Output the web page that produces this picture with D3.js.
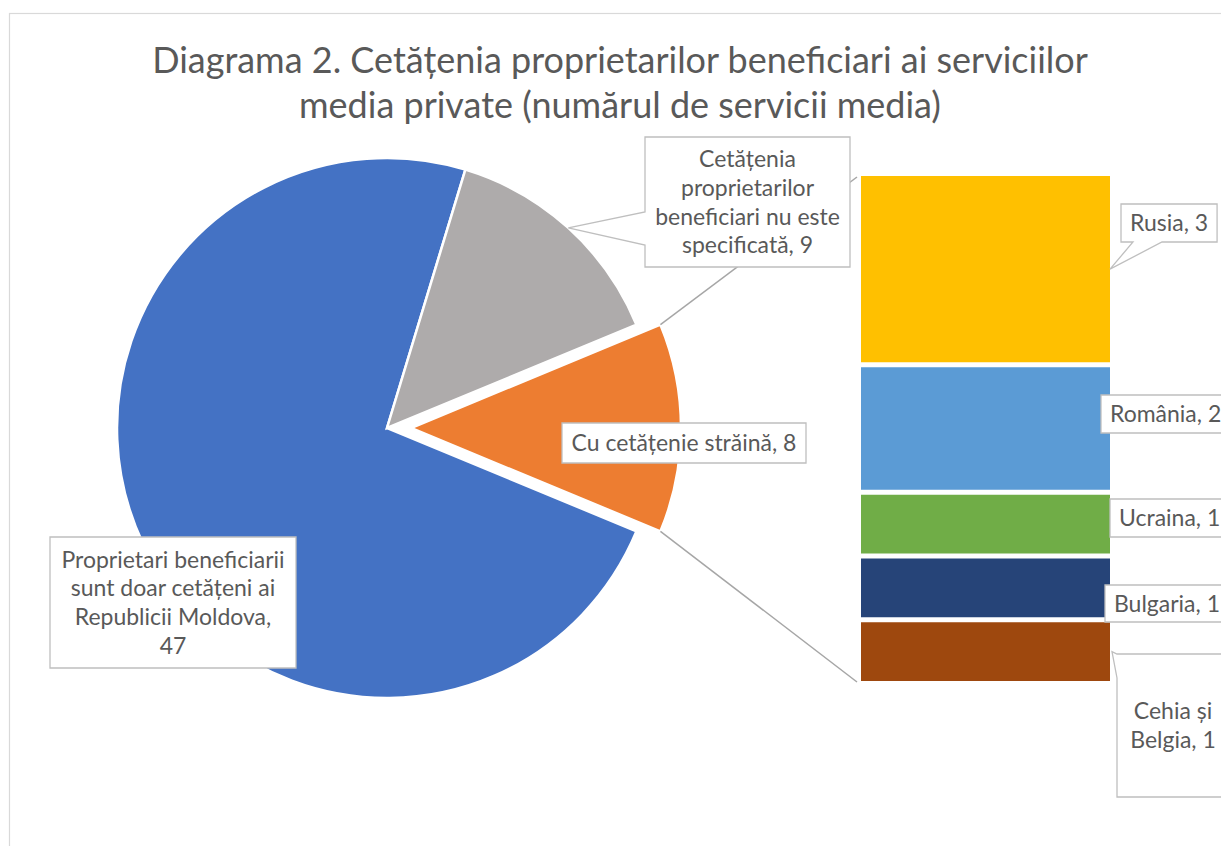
<!DOCTYPE html>
<html><head><meta charset="utf-8">
<script src="https://cdn.jsdelivr.net/npm/d3@7"></script>
<style>html,body{margin:0;padding:0;background:#fff;overflow:hidden}</style>
</head><body><svg id="chart" width="1221" height="846"></svg>
<script>
// ---- data ----
const titleLines = ["Diagrama 2. Cetățenia proprietarilor beneficiari ai serviciilor",
                    "media private (numărul de servicii media)"];
const pieCategories = ["Proprietari beneficiarii sunt doar cetățeni ai Republicii Moldova",
                       "Cetățenia proprietarilor beneficiari nu este specificată",
                       "Cu cetățenie străină"];
const pieValues = [47, 9, 8];
const pieColors = ["#4472C4", "#AEABAB", "#ED7D31"];
const barCategories = ["Rusia", "România", "Ucraina", "Bulgaria", "Cehia și Belgia"];
const barValues = [3, 2, 1, 1, 1];
const barColors = ["#FFC000", "#5B9BD5", "#70AD47", "#264478", "#9E480E"];

// ---- layout ----
const FONT = "Lato, 'Open Sans', sans-serif";
const TXT = "#595959";
const svg = d3.select("#chart");
svg.append("rect").attr("x", 9.5).attr("y", 13.5).attr("width", 1400).attr("height", 1000)
  .attr("fill", "#fff").attr("stroke", "#D9D9D9").attr("stroke-width", 1.2);

// measuring helper
const meas = svg.append("text").attr("font-family", FONT).attr("visibility", "hidden");
function textW(s, size) { meas.attr("font-size", size).text(s); return meas.node().getComputedTextLength(); }
function fitSize(s, target) { return 20 * target / textW(s, 20); }

const titleSize = fitSize(titleLines[0], 936);
const labelSize = fitSize(pieCategories[2] + ", " + pieValues[2], 225);

// title
svg.append("g").selectAll("text").data(titleLines).join("text")
  .attr("x", 620).attr("y", (d, i) => 73 + i * 45)
  .attr("text-anchor", "middle").attr("font-family", FONT).attr("font-size", titleSize)
  .attr("fill", TXT).text(d => d);

// pie
const cx = 387, cy = 428, R = 270, explode = 24;
const total = d3.sum(pieValues);
const splitIdx = 2;
const startA = Math.PI / 2 + Math.PI * pieValues[splitIdx] / total; // split slice centred at 3 o'clock
const pie = d3.pie().sort(null).startAngle(startA).endAngle(startA + 2 * Math.PI);
const arcs = pie(pieValues);
const arc = d3.arc().innerRadius(0).outerRadius(R);
const arcEdge = d3.arc().innerRadius(R).outerRadius(R);
const gPie = svg.append("g").attr("transform", `translate(${cx},${cy})`);
gPie.selectAll("path").data(arcs).join("path")
  .attr("d", arc)
  .attr("transform", (d, i) => {
    if (i !== splitIdx) return null;
    const m = (d.startAngle + d.endAngle) / 2;
    return `translate(${explode * Math.sin(m)},${-explode * Math.cos(m)})`;
  })
  .attr("fill", (d, i) => pieColors[i]).attr("stroke", "#fff").attr("stroke-width", 2.5);

// bar of pie
const barX0 = 861, barX1 = 1110, gap = 5;
const y = d3.scaleLinear().domain([0, d3.sum(barValues)]).range([173.5, 683.5]);
const cum = d3.cumsum(barValues);
const segs = barValues.map((v, i) => ({ v, i, y0: y(cum[i] - v), y1: y(cum[i]) }));
svg.append("g").selectAll("rect").data(segs).join("rect")
  .attr("x", barX0).attr("width", barX1 - barX0)
  .attr("y", d => d.y0 + gap / 2).attr("height", d => d.y1 - d.y0 - gap)
  .attr("fill", d => barColors[d.i]);

// series lines
const sd = arcs[splitIdx];
const mid = (sd.startAngle + sd.endAngle) / 2;
const ox = cx + explode * Math.sin(mid), oy = cy - explode * Math.cos(mid);
const pTop = [ox + R * Math.sin(sd.startAngle), oy - R * Math.cos(sd.startAngle)];
const pBot = [ox + R * Math.sin(sd.endAngle), oy - R * Math.cos(sd.endAngle)];
const conn = [[pTop, [barX0 - 4, y(0) + gap / 2 + 1]], [pBot, [barX0 - 4, y(d3.sum(barValues)) - gap / 2 + 1]]];
svg.append("g").selectAll("line").data(conn).join("line")
  .attr("x1", d => d[0][0]).attr("y1", d => d[0][1]).attr("x2", d => d[1][0]).attr("y2", d => d[1][1])
  .attr("stroke", "#A6A6A6").attr("stroke-width", 1.5);

// callout helpers
function calloutPath(b, ptr) {
  const { x, y, w, h } = b;
  if (!ptr) return `M${x},${y}H${x + w}V${y + h}H${x}Z`;
  if (ptr.side === "left")
    return `M${x},${y}H${x + w}V${y + h}H${x}V${ptr.b2}L${ptr.tip[0]},${ptr.tip[1]}L${x},${ptr.b1}Z`;
  if (ptr.side === "bottom")
    return `M${x},${y}H${x + w}V${y + h}H${ptr.b2}L${ptr.tip[0]},${ptr.tip[1]}L${ptr.b1},${y + h}H${x}Z`;
}
function wrap(s, maxW) {
  const words = s.split(" "); const lines = []; let cur = "";
  words.forEach(wd => {
    const t = cur ? cur + " " + wd : wd;
    if (cur && textW(t, labelSize) > maxW) { lines.push(cur); cur = wd; } else cur = t;
  });
  lines.push(cur); return lines;
}
const lineH = 28.7;
function drawLabel(cat, val, box, maxW, ptr, pad, valueOwnLine) {
  const lines = valueOwnLine ? wrap(cat + ",", maxW).concat([String(val)]) : wrap(cat + ", " + val, maxW);
  if (box.w == null) box.w = d3.max(lines, l => textW(l, labelSize)) + 2 * pad;
  const g = svg.append("g");
  g.append("path").attr("d", calloutPath(box, ptr)).attr("fill", "#fff")
    .attr("stroke", "#BFBFBF").attr("stroke-width", 1.3);
  const ccy = box.y + box.h / 2;
  g.selectAll("text").data(lines).join("text")
    .attr("x", box.x + box.w / 2)
    .attr("y", (d, i) => ccy + (i - (lines.length - 1) / 2) * lineH)
    .attr("dy", "0.36em").attr("text-anchor", "middle")
    .attr("font-family", FONT).attr("font-size", labelSize).attr("fill", TXT).text(d => d);
}

// pie labels
const grayTip = arcEdge.centroid(arcs[1]);
drawLabel(pieCategories[0], pieValues[0], { x: 50, y: 537, w: 246, h: 131 }, 232, null, 0, true);
drawLabel(pieCategories[1], pieValues[1], { x: 645, y: 137, w: 205, h: 130 }, 192,
  { side: "left", b1: 212, b2: 245, tip: [cx + grayTip[0], cy + grayTip[1]] });
drawLabel(pieCategories[2], pieValues[2], { x: 562, y: 423, w: 244, h: 40 }, 400, null);

// bar labels
const barBoxes = [
  { x: 1121, y: 204, h: 38 },
  { x: 1101, y: 395, h: 38 },
  { x: 1110, y: 499, h: 38 },
  { x: 1105, y: 585, h: 37 },
  { x: 1117, y: 654, w: 112, h: 143 }
];
segs.forEach((s, i) => {
  const midY = (s.y0 + s.y1) / 2;
  let ptr = null;
  if (i === 0) ptr = { side: "bottom", b1: 1133, b2: 1162, tip: [barX1, midY] };
  if (i === 4) ptr = { side: "left", b1: 654, b2: 678, tip: [barX1 + 2, midY] };
  drawLabel(barCategories[i], barValues[i], barBoxes[i], i === 4 ? 90 : 400, ptr, 9);
});
meas.remove();
</script></body></html>
